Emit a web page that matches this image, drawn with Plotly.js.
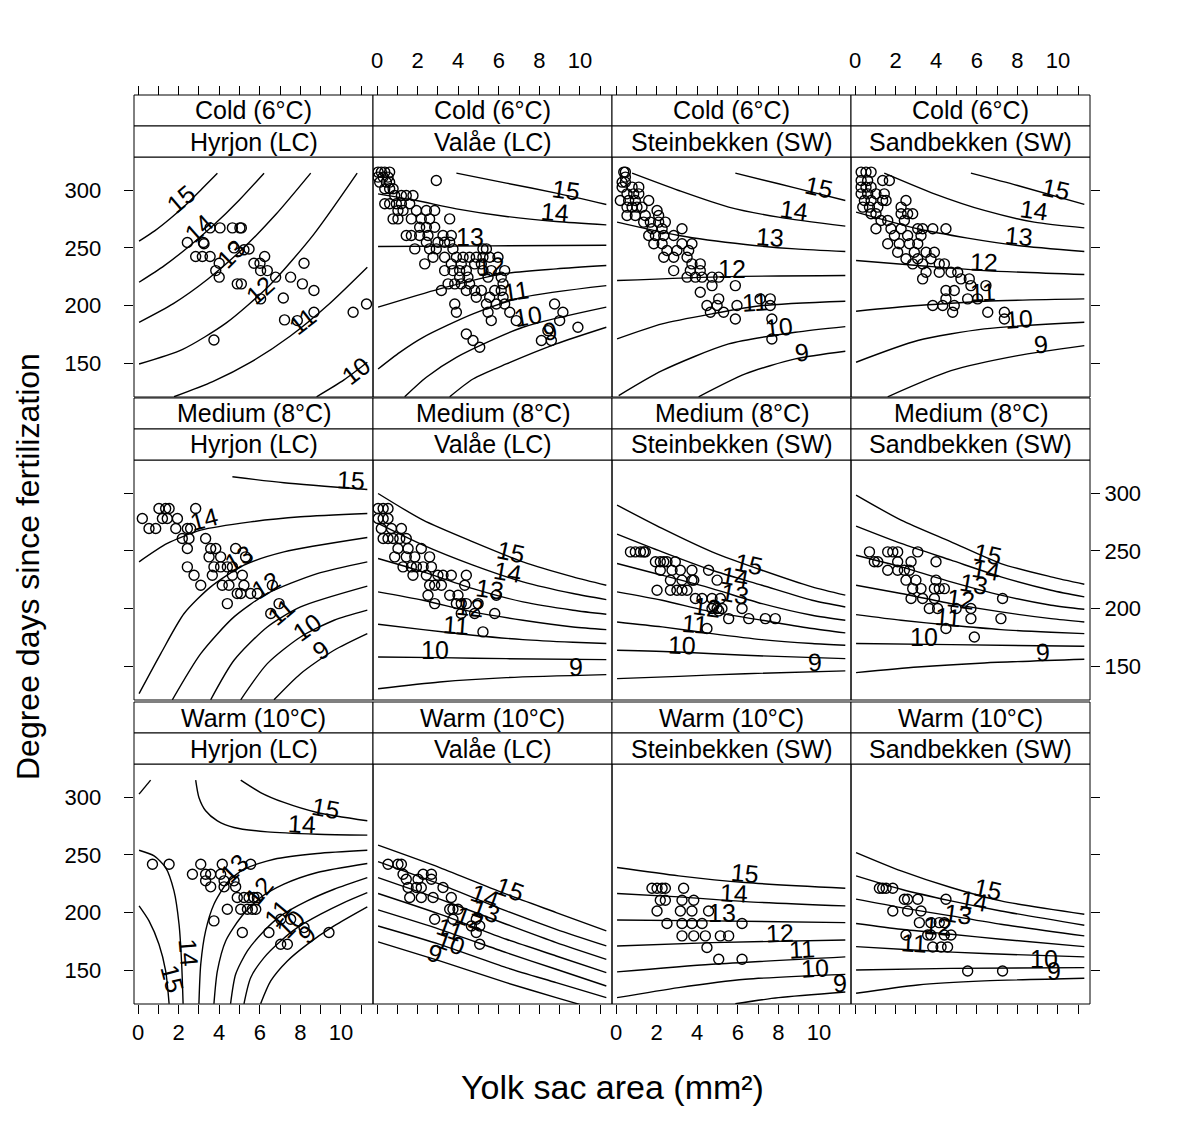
<!DOCTYPE html>
<html><head><meta charset="utf-8">
<script src="https://cdn.plot.ly/plotly-3.0.1.min.js"></script>
<style>body{margin:0;background:#fff}#plot{width:1200px;height:1125px}</style>
</head><body><div id="plot"></div>
<script>
// ---------- categories ----------
const temperatures = ["Cold (6°C)", "Medium (8°C)", "Warm (10°C)"];
const populations = ["Hyrjon (LC)", "Valåe (LC)", "Steinbekken (SW)", "Sandbekken (SW)"];
const xTickVals = [0,1,2,3,4,5,6,7,8,9,10,11];
const xTickText = ["0","","2","","4","","6","","8","","10",""];
const yTickVals = [150,200,250,300];
const yTickText = ["150","200","250","300"];

// ---------- observations: [yolk sac area, degree days] ----------
const coldHyrjonPts = [[2.43,254.6],[3.22,254.6],[3.25,253.5],[3.55,267.3],[4.04,267.3],[4.65,267.3],[5.02,267.3],[5.09,267.3],[2.84,242.5],[3.17,242.5],[3.55,242.5],[3.83,230.3],[4.0,236.7],[4.0,224.6],[4.73,250.0],[5.22,248.3],[5.47,249.0],[4.89,218.8],[5.09,218.8],[5.71,236.7],[6.01,236.7],[6.24,242.5],[6.04,230.3],[6.37,230.3],[6.78,224.6],[7.52,224.6],[8.18,236.7],[8.10,218.8],[8.67,213.0],[7.16,206.6],[6.04,205.8],[7.22,187.6],[7.85,187.0],[8.67,194.2],[3.74,170.2],[10.6,194.2],[11.26,201.4]];
const coldValaePts = [[0.05,315.6],[0.21,315.6],[0.38,315.6],[0.62,315.6],[0.05,311.3],[0.30,311.3],[0.54,311.3],[0.13,306.9],[0.46,306.9],[0.62,306.9],[0.38,301.2],[0.62,301.2],[0.79,301.2],[2.92,308.4],[0.87,295.4],[1.20,295.4],[1.44,295.4],[1.77,295.4],[0.38,288.2],[0.62,288.2],[0.95,288.2],[1.20,288.2],[1.61,288.2],[1.03,282.4],[1.28,282.4],[1.94,282.4],[2.43,282.4],[2.84,282.4],[0.79,275.1],[1.03,275.1],[1.69,275.1],[2.18,275.1],[2.59,275.1],[3.58,275.1],[2.10,267.9],[2.43,267.9],[2.84,267.9],[1.44,260.7],[1.69,260.7],[2.10,260.7],[2.51,260.7],[3.25,260.7],[3.66,260.7],[2.43,254.9],[3.00,254.9],[3.33,254.9],[3.58,254.9],[1.86,249.1],[2.59,249.1],[2.92,249.1],[3.74,249.1],[5.22,249.1],[5.39,249.1],[2.76,241.9],[3.33,241.9],[3.91,241.9],[4.24,241.9],[4.56,241.9],[4.89,241.9],[5.22,241.9],[5.55,241.9],[5.96,241.9],[2.35,236.1],[3.66,236.1],[4.15,236.1],[4.81,236.1],[5.14,236.1],[3.33,230.3],[3.74,230.3],[4.07,230.3],[4.40,230.3],[5.22,230.3],[5.63,230.3],[6.29,230.3],[4.07,224.6],[4.48,224.6],[5.47,224.6],[6.12,224.6],[3.50,218.8],[3.83,218.8],[4.15,218.8],[4.56,218.8],[6.21,218.8],[3.17,213.0],[4.40,213.0],[4.81,213.0],[5.14,213.0],[5.80,213.0],[6.12,213.0],[4.89,207.2],[5.55,207.2],[6.21,207.2],[3.83,201.4],[5.39,201.4],[5.88,201.4],[6.29,201.4],[8.75,201.4],[3.91,194.2],[5.47,194.2],[6.54,194.2],[9.16,194.2],[5.63,187.0],[6.86,187.0],[9.00,187.0],[9.90,181.2],[8.42,178.3],[4.40,175.4],[4.73,169.7],[8.10,169.7],[8.59,169.7],[5.06,163.9]];
const coldSteinPts = [[0.38,315.6],[0.46,315.6],[0.46,311.3],[0.30,306.9],[0.46,306.9],[0.30,302.6],[0.79,302.6],[1.12,302.6],[0.54,296.8],[0.87,296.8],[1.12,296.8],[0.21,291.0],[0.62,291.0],[0.95,291.0],[1.61,291.0],[0.54,285.3],[0.79,285.3],[1.03,285.3],[1.28,285.3],[2.02,282.4],[0.54,278.0],[0.95,278.0],[1.44,278.0],[2.10,278.0],[1.36,272.3],[1.69,272.3],[2.10,272.3],[2.43,272.3],[1.77,266.5],[2.27,266.5],[3.25,266.5],[1.61,260.7],[1.94,260.7],[2.35,260.7],[2.84,260.7],[1.86,253.5],[2.27,253.5],[3.25,253.5],[3.74,253.5],[2.51,247.7],[3.00,247.7],[3.58,247.7],[2.35,241.9],[2.84,241.9],[3.50,241.9],[3.74,236.1],[4.15,236.1],[2.84,230.3],[3.66,230.3],[4.15,230.3],[3.50,224.6],[3.91,224.6],[4.24,224.6],[4.73,224.6],[5.06,224.6],[4.73,217.3],[5.88,217.3],[4.15,211.6],[5.06,205.8],[7.10,205.8],[7.60,205.8],[4.48,200.0],[4.98,200.0],[5.96,200.0],[7.60,200.0],[4.65,194.2],[5.30,194.2],[5.88,188.4],[7.68,188.4],[7.68,171.1]];
const coldSandPts = [[0.30,315.6],[0.54,315.6],[0.79,315.6],[0.30,308.4],[0.62,308.4],[1.36,308.4],[1.69,308.4],[0.30,302.6],[0.54,302.6],[0.79,302.6],[0.30,296.8],[0.62,296.8],[1.03,296.8],[1.44,296.8],[0.46,291.0],[0.79,291.0],[1.36,291.0],[1.53,291.0],[2.51,291.0],[0.38,285.3],[0.71,285.3],[1.12,285.3],[2.27,285.3],[0.79,279.5],[1.03,279.5],[2.27,279.5],[2.59,279.5],[2.84,279.5],[1.28,273.7],[1.61,273.7],[2.43,273.7],[1.03,266.5],[1.77,266.5],[2.27,266.5],[3.09,266.5],[3.33,266.5],[3.83,266.5],[4.48,266.5],[1.94,260.7],[2.59,260.7],[3.25,260.7],[1.61,253.5],[2.18,253.5],[2.68,253.5],[3.09,253.5],[2.10,246.2],[2.92,246.2],[3.50,246.2],[3.91,246.2],[2.51,240.5],[3.09,240.5],[3.74,240.5],[2.84,236.1],[3.33,236.1],[4.15,236.1],[4.40,236.1],[3.50,228.9],[4.15,228.9],[4.73,228.9],[5.06,228.9],[3.33,223.1],[5.22,223.1],[5.63,223.1],[5.71,217.3],[6.45,217.3],[4.48,213.0],[4.89,213.0],[4.48,205.8],[5.55,205.8],[6.04,205.8],[3.83,200.0],[4.32,200.0],[4.89,200.0],[4.81,194.2],[6.54,194.2],[7.36,194.2],[7.36,188.4]];
const mediumHyrjonPts = [[1.03,286.7],[1.36,286.7],[1.53,286.7],[2.84,286.7],[0.21,278.0],[1.20,278.0],[1.44,278.0],[1.94,278.0],[0.54,269.4],[0.87,269.4],[1.86,269.4],[2.43,269.4],[2.59,269.4],[2.18,260.7],[2.51,260.7],[3.33,260.7],[2.43,252.0],[3.58,252.0],[3.83,252.0],[4.81,252.0],[3.50,244.8],[4.07,244.8],[5.30,244.8],[2.43,236.1],[3.74,236.1],[4.07,236.1],[4.40,236.1],[4.65,236.1],[2.76,228.9],[3.66,228.9],[4.65,228.9],[5.14,228.9],[3.09,220.2],[4.15,220.2],[4.48,220.2],[5.22,220.2],[6.62,220.2],[4.89,213.0],[5.06,213.0],[5.55,213.0],[5.88,213.0],[4.40,204.3],[6.95,204.3],[6.54,195.7]];
const mediumValaePts = [[0.05,286.7],[0.30,286.7],[0.54,286.7],[0.05,278.0],[0.30,278.0],[0.54,278.0],[0.21,269.4],[0.71,269.4],[1.20,269.4],[0.30,260.7],[0.54,260.7],[0.79,260.7],[1.12,260.7],[1.44,260.7],[1.03,252.0],[1.53,252.0],[2.18,252.0],[0.87,244.8],[1.44,244.8],[1.86,244.8],[2.59,244.8],[1.28,236.1],[1.69,236.1],[1.94,236.1],[2.27,236.1],[2.68,236.1],[1.77,228.9],[2.43,228.9],[3.00,228.9],[3.25,228.9],[3.66,228.9],[4.40,228.9],[2.59,220.2],[2.84,220.2],[3.17,220.2],[4.32,220.2],[2.51,211.6],[3.58,211.6],[3.99,211.6],[5.88,211.6],[2.84,204.3],[3.91,204.3],[4.15,204.3],[4.40,204.3],[4.98,204.3],[4.15,195.7],[4.81,195.7],[5.80,195.7],[5.22,179.8]];
const mediumSteinPts = [[0.71,249.1],[0.95,249.1],[1.20,249.1],[1.36,249.1],[1.44,249.1],[1.94,240.5],[2.18,240.5],[2.35,240.5],[2.51,240.5],[2.92,240.5],[2.18,233.2],[2.76,233.2],[3.17,233.2],[3.74,233.2],[4.56,233.2],[2.68,224.6],[3.25,224.6],[3.74,224.6],[3.83,224.6],[4.98,224.6],[2.02,215.9],[2.68,215.9],[3.00,215.9],[3.25,215.9],[3.50,215.9],[3.91,208.7],[4.24,208.7],[4.73,208.7],[5.14,208.7],[4.81,202.0],[5.06,198.0],[4.73,200.0],[4.98,200.0],[5.22,200.0],[6.21,200.0],[5.55,191.3],[6.54,191.3],[7.36,191.3],[7.85,191.3],[4.48,182.7]];
const mediumSandPts = [[0.71,249.1],[1.61,249.1],[1.86,249.1],[2.10,249.1],[3.09,249.1],[0.95,240.5],[1.12,240.5],[2.10,240.5],[2.76,240.5],[3.99,240.5],[1.61,233.2],[2.10,233.2],[2.43,233.2],[2.68,233.2],[2.51,224.6],[3.00,224.6],[3.99,224.6],[2.84,217.3],[3.25,217.3],[3.91,217.3],[4.15,217.3],[4.40,217.3],[2.76,208.7],[3.33,208.7],[3.91,208.7],[7.27,208.7],[3.66,200.0],[4.07,200.0],[4.98,200.0],[5.71,200.0],[5.71,191.3],[7.19,191.3],[4.48,182.7],[5.88,175.4]];
const warmHyrjonPts = [[0.71,241.9],[1.53,241.9],[3.09,241.9],[4.15,241.9],[5.55,241.9],[2.68,233.2],[3.33,233.2],[3.58,233.2],[4.07,233.2],[3.33,227.5],[4.24,227.5],[4.73,227.5],[3.58,222.3],[4.24,222.3],[4.81,222.3],[4.89,213.0],[5.22,213.0],[5.47,213.0],[5.71,213.0],[5.88,213.0],[4.40,202.9],[5.06,202.9],[5.39,202.9],[5.63,202.9],[5.80,202.9],[7.03,194.2],[7.52,194.2],[3.74,192.8],[8.18,187.0],[5.14,182.7],[6.45,182.7],[9.41,182.7],[7.03,172.5],[7.36,172.5]];
const warmValaePts = [[0.54,241.9],[1.03,241.9],[1.20,241.9],[1.28,233.2],[2.27,233.2],[2.68,233.2],[1.44,228.9],[2.02,228.9],[2.68,228.9],[1.53,221.7],[1.94,221.7],[2.18,221.7],[3.25,221.7],[1.61,213.0],[2.18,213.0],[2.76,213.0],[3.66,213.0],[3.58,202.9],[3.74,202.9],[3.99,202.9],[2.84,194.2],[3.74,194.2],[4.89,194.2],[4.65,188.4],[5.06,188.4],[4.89,182.7],[5.06,172.5]];
const warmSteinPts = [[1.77,221.1],[2.02,221.1],[2.27,221.1],[2.43,221.1],[3.33,221.1],[2.18,210.7],[2.43,210.7],[3.25,210.7],[3.83,210.7],[2.02,201.4],[3.17,201.4],[3.74,201.4],[4.56,201.4],[2.51,190.5],[3.25,190.5],[3.74,190.5],[4.24,190.5],[6.21,190.5],[3.25,179.8],[3.83,179.8],[4.40,179.8],[5.14,179.8],[5.55,179.8],[4.48,169.7],[5.06,159.5],[6.21,159.5]];
const warmSandPts = [[1.20,221.1],[1.36,221.1],[1.53,221.1],[1.86,221.1],[2.43,211.6],[2.59,211.6],[3.09,211.6],[4.48,211.6],[1.86,201.4],[2.59,201.4],[3.25,201.4],[3.17,191.3],[3.74,191.3],[4.15,191.3],[4.40,191.3],[2.51,180.6],[3.58,180.6],[3.74,180.6],[4.40,180.6],[4.73,180.6],[3.83,170.2],[4.24,170.2],[4.56,170.2],[5.55,149.4],[7.27,149.4]];

// ---------- fitted contour lines: [level, [[area, degree days], ...]] ----------
const coldHyrjonLines = [
 [15,[[0.05,255.8],[0.82,264.7],[1.59,275.4],[2.36,287.3],[3.14,301.0],[3.91,314.7]]],
 [14,[[0.05,220.2],[1.28,234.4],[2.51,251.2],[3.74,270.0],[4.98,291.3],[6.21,314.7]]],
 [13,[[0.05,185.5],[1.74,201.7],[3.43,222.8],[5.12,248.6],[6.82,279.5],[8.51,314.7]]],
 [12,[[0.05,149.4],[2.20,162.1],[4.35,185.0],[6.50,217.9],[8.65,261.5],[10.8,314.7]]],
 [11,[[1.77,121.0],[3.68,134.1],[5.58,151.2],[7.49,173.4],[9.39,200.9],[11.3,233.2]]],
 [10,[[8.8,121.0],[10.15,135.6],[11.3,150.9]]]];
const coldValaeLines = [
 [15,[[3.91,314.7],[6.37,306.1],[8.83,297.4],[11.3,287.6]]],
 [14,[[0.05,296.8],[1.94,291.0],[3.91,283.8],[6.37,277.2],[8.83,272.8],[11.3,269.9]]],
 [13,[[0.05,251.2],[5.55,251.7],[11.3,252.3]]],
 [12,[[0.05,198.6],[3.09,214.5],[6.21,227.5],[8.83,231.8],[11.3,234.7]]],
 [11,[[0.05,145.1],[1.12,159.5],[2.27,172.5],[4.73,192.8],[7.19,207.2],[11.3,217.3]]],
 [10,[[1.36,121.0],[2.43,137.9],[3.91,155.2],[7.19,181.2],[11.3,198.6]]],
 [9,[[3.58,121.0],[4.73,136.4],[6.37,149.4],[8.83,166.8],[11.3,181.2]]]];
const coldSteinLines = [
 [15,[[5.88,314.7],[8.01,305.5],[9.66,298.3],[11.3,291.0]]],
 [14,[[0.79,314.7],[3.09,299.7],[5.55,285.3],[8.01,276.6],[11.3,268.8]]],
 [13,[[0.05,272.3],[3.09,260.7],[6.37,252.9],[8.83,249.1],[11.3,246.8]]],
 [12,[[0.05,221.7],[5.55,225.1],[11.3,226.0]]],
 [11,[[0.05,171.1],[2.27,184.1],[4.73,192.8],[7.19,200.0],[11.3,203.8]]],
 [10,[[0.13,122.0],[2.27,143.6],[5.55,166.8],[8.83,176.9],[11.3,181.8]]],
 [9,[[4.07,121.0],[6.37,140.8],[8.83,153.8],[11.3,160.4]]]];
const coldSandLines = [
 [15,[[5.71,314.7],[8.01,304.0],[11.3,287.6]]],
 [14,[[1.44,314.7],[3.91,296.8],[6.37,282.4],[8.83,272.3],[11.3,267.3]]],
 [13,[[0.05,280.9],[3.09,266.5],[5.55,258.4],[8.01,252.0],[11.3,246.8]]],
 [12,[[0.05,239.0],[3.09,234.7],[6.37,230.3],[11.3,226.9]]],
 [11,[[0.05,195.1],[3.09,200.0],[6.37,203.8],[11.3,205.8]]],
 [10,[[0.05,150.9],[3.09,169.7],[6.37,179.8],[11.3,185.5]]],
 [9,[[1.61,121.0],[4.73,143.6],[8.01,156.6],[11.3,165.3]]]];
const mediumHyrjonLines = [
 [15,[[4.65,314.2],[7.19,309.0],[11.3,303.2]]],
 [14,[[0.05,240.5],[1.44,256.4],[3.09,267.9],[5.55,275.1],[8.01,279.5],[11.3,282.4]]],
 [13,[[0.05,126.3],[1.12,161.0],[2.27,195.7],[3.58,218.8],[5.22,237.6],[7.19,249.1],[11.3,261.6]]],
 [12,[[1.69,121.0],[3.09,161.0],[4.73,192.8],[6.37,213.0],[8.83,230.3],[11.3,240.5]]],
 [11,[[3.58,121.0],[4.73,155.2],[6.37,184.1],[8.01,201.4],[11.3,219.4]]],
 [10,[[5.06,121.0],[6.37,152.3],[8.01,175.4],[9.66,189.9],[11.3,198.6]]],
 [9,[[6.70,121.0],[8.01,143.6],[9.66,163.9],[11.3,178.3]]]];
const mediumValaeLines = [
 [15,[[0.05,299.7],[2.27,276.6],[4.73,257.8],[7.19,240.5],[9.66,227.5],[11.3,220.2]]],
 [14,[[0.05,273.7],[2.27,254.9],[4.73,237.6],[7.19,223.1],[9.66,213.0],[11.3,207.8]]],
 [13,[[0.05,243.4],[2.27,231.8],[4.73,217.3],[7.19,205.8],[9.66,198.6],[11.3,195.1]]],
 [12,[[0.05,214.5],[2.27,207.2],[4.73,197.1],[7.19,189.9],[9.66,184.1],[11.3,181.8]]],
 [11,[[0.05,186.4],[2.27,181.8],[4.73,176.9],[7.19,173.1],[9.66,170.8],[11.3,169.7]]],
 [10,[[0.05,158.1],[3.09,157.5],[6.37,156.6],[11.3,155.8]]],
 [9,[[0.05,130.6],[3.09,136.4],[6.37,140.2],[11.3,142.8]]]];
const mediumSteinLines = [
 [15,[[0.05,289.6],[2.27,269.4],[4.73,249.1],[7.19,233.2],[9.66,218.8],[11.3,211.6]]],
 [14,[[0.05,264.5],[2.27,249.1],[4.73,233.2],[7.19,220.2],[9.66,207.2],[11.3,201.4]]],
 [13,[[0.05,239.0],[2.27,228.9],[4.73,217.3],[7.19,204.3],[9.66,194.2],[11.3,189.9]]],
 [12,[[0.05,214.5],[2.27,207.2],[4.73,197.1],[7.19,189.9],[9.66,182.7],[11.3,178.9]]],
 [11,[[0.05,188.4],[2.27,184.1],[4.73,178.3],[7.19,173.1],[9.66,169.7],[11.3,168.2]]],
 [10,[[0.05,163.9],[3.09,162.4],[6.37,159.5],[11.3,156.6]]],
 [9,[[0.05,139.3],[3.09,141.3],[6.37,143.6],[11.3,146.0]]]];
const mediumSandLines = [
 [15,[[0.05,298.3],[2.27,276.6],[4.73,257.8],[7.19,239.0],[9.66,227.5],[11.3,221.1]]],
 [14,[[0.05,271.4],[2.27,256.4],[4.73,241.9],[7.19,227.5],[9.66,215.9],[11.3,210.1]]],
 [13,[[0.05,246.2],[2.27,236.1],[4.73,223.1],[7.19,211.6],[9.66,202.9],[11.3,199.4]]],
 [12,[[0.05,220.2],[2.27,213.0],[4.73,204.3],[7.19,197.1],[9.66,191.3],[11.3,188.4]]],
 [11,[[0.05,194.8],[2.27,189.9],[4.73,185.5],[7.19,181.8],[9.66,179.5],[11.3,178.3]]],
 [10,[[0.05,169.7],[4.73,168.8],[11.3,167.3]]],
 [9,[[0.05,144.5],[3.09,149.4],[6.37,152.9],[11.3,156.1]]]];
const warmHyrjonLines = [
 [15,[[5.06,314.7],[6.04,304.0],[7.19,295.4],[8.83,286.7],[11.3,279.5]]],
 [14,[[2.84,314.7],[3.0,299.7],[3.33,288.2],[3.91,279.5],[4.73,273.7],[6.37,269.9],[8.83,267.9],[11.3,267.1]]],
 [15,[[0.05,302.6],[0.62,314.7]]],
 [14,[[0.05,254.0],[0.79,249.1],[1.36,239.0],[1.77,218.8],[2.02,189.9],[2.15,155.2],[2.22,121.0]]],
 [15,[[0.05,205.8],[0.54,192.8],[1.03,172.5],[1.36,149.4],[1.53,121.0]]],
 [13,[[3.0,121.0],[3.09,155.2],[3.33,184.1],[3.74,207.2],[4.40,226.0],[5.22,237.6],[6.70,246.2],[8.83,251.2],[11.3,254.0]]],
 [12,[[3.74,121.0],[3.91,149.4],[4.32,175.4],[5.06,195.7],[6.04,213.0],[7.19,224.6],[8.83,234.7],[11.3,242.5]]],
 [11,[[4.56,121.0],[4.81,146.5],[5.39,166.8],[6.21,184.1],[7.03,197.1],[8.34,210.1],[9.66,220.2],[11.3,230.3]]],
 [10,[[5.22,121.0],[5.55,143.6],[6.21,161.0],[7.03,175.4],[7.85,187.0],[9.0,198.6],[10.15,208.7],[11.3,217.3]]],
 [9,[[6.04,121.0],[6.54,140.8],[7.36,158.1],[8.34,172.5],[9.66,188.4],[11.3,204.9]]]];
const warmValaeLines = [
 [15,[[0.05,258.4],[3.09,239.0],[6.37,215.9],[8.83,200.0],[11.3,184.1]]],
 [14,[[0.05,244.2],[3.09,224.6],[6.37,201.4],[8.83,185.5],[11.3,171.1]]],
 [13,[[0.05,230.3],[3.09,211.6],[6.37,189.9],[8.83,174.0],[11.3,159.5]]],
 [12,[[0.05,216.5],[3.09,198.6],[6.37,176.9],[8.83,162.4],[11.3,148.0]]],
 [11,[[0.05,202.3],[3.09,185.5],[6.37,165.3],[8.83,150.9],[11.3,136.4]]],
 [10,[[0.05,188.4],[3.09,172.5],[6.37,152.3],[8.83,139.3],[11.3,126.3]]],
 [9,[[0.05,174.6],[3.09,158.1],[6.37,139.3],[8.83,126.3],[9.98,120.5]]]];
const warmSteinLines = [
 [15,[[0.05,239.0],[3.09,231.8],[6.37,226.0],[11.3,221.1]]],
 [14,[[0.05,216.5],[3.09,213.6],[6.37,209.5],[11.3,205.8]]],
 [13,[[0.05,193.6],[4.73,192.8],[11.3,191.3]]],
 [12,[[0.05,171.1],[4.73,174.0],[11.3,176.3]]],
 [11,[[0.05,148.6],[4.73,155.2],[11.3,161.6]]],
 [10,[[0.05,126.3],[3.09,135.0],[6.37,142.2],[11.3,146.5]]],
 [9,[[5.88,121.0],[8.01,126.3],[11.3,131.2]]]];
const warmSandLines = [
 [15,[[0.05,252.0],[2.27,236.1],[4.73,221.7],[7.19,210.1],[11.3,198.6]]],
 [14,[[0.05,231.8],[2.27,220.2],[4.73,210.1],[7.19,201.4],[11.3,189.0]]],
 [13,[[0.05,211.6],[2.27,204.3],[4.73,197.1],[7.19,189.9],[11.3,179.8]]],
 [12,[[0.05,190.5],[2.27,185.5],[4.73,181.2],[7.19,176.9],[11.3,170.5]]],
 [11,[[0.05,170.5],[3.09,167.3],[6.37,164.5],[11.3,161.6]]],
 [10,[[0.05,150.3],[4.73,151.7],[11.3,152.3]]],
 [9,[[0.05,130.1],[3.09,137.3],[6.37,140.8],[11.3,143.1]]]];

// ---------- contour labels: [level, area, degree days] and their angles ----------
const coldHyrjonLabels = [[15,2.10,292.5],[14,3.0,267.1],[13,4.56,244.8],[12,6.01,213.6],[11,8.10,187.0],[10,10.72,143.6]];
const coldHyrjonAngles = [-40,-42,-45,-42,-38,-38];
const coldValaeLabels = [[15,9.33,299.7],[14,8.75,280.9],[13,4.56,259.2],[12,5.6,234.0],[11,6.86,213.0],[10,7.44,191.3],[9,8.51,177.7]];
const coldValaeAngles = [8,5,0,-3,-8,-10,-12];
const coldSteinLabels = [[15,9.98,302.6],[14,8.75,282.4],[13,7.6,259.2],[12,5.71,231.8],[11,6.86,202.9],[10,8.01,181.2],[9,9.16,159.5]];
const coldSteinAngles = [12,8,4,0,-3,-6,-8];
const coldSandLabels = [[15,9.90,301.2],[14,8.83,282.4],[13,8.10,260.7],[12,6.37,237.6],[11,6.29,211.6],[10,8.10,188.4],[9,9.16,166.8]];
const coldSandAngles = [12,8,5,2,-2,-4,-6];
const mediumHyrjonLabels = [[15,10.48,311.3],[14,3.25,278.0],[13,4.98,243.4],[12,6.29,220.2],[11,7.03,197.1],[10,8.34,184.1],[9,9.0,163.9]];
const mediumHyrjonAngles = [3,-15,-30,-32,-40,-35,-35];
const mediumValaeLabels = [[15,6.62,249.1],[14,6.45,231.8],[13,5.55,217.3],[12,4.56,201.4],[11,3.91,185.5],[10,2.84,163.9],[9,9.82,149.4]];
const mediumValaeAngles = [12,10,8,6,4,0,0];
const mediumSteinLabels = [[15,6.54,239.0],[14,5.88,227.5],[13,5.88,213.0],[12,4.48,201.4],[11,3.91,187.0],[10,3.25,168.2],[9,9.82,153.8]];
const mediumSteinAngles = [12,10,10,8,5,2,-2];
const mediumSandLabels = [[15,6.54,247.7],[14,6.45,233.2],[13,5.88,221.7],[12,5.22,208.7],[11,4.56,192.8],[10,3.42,175.4],[9,9.24,162.4]];
const mediumSandAngles = [12,10,10,8,5,0,-2];
const warmHyrjonLabels = [[15,9.24,291.0],[14,8.10,276.6],[14,2.51,165.3],[15,1.69,142.2],[13,4.73,239.0],[12,5.96,218.8],[11,6.86,200.0],[10,7.52,189.9],[9,8.34,181.2]];
const warmHyrjonAngles = [10,3,85,75,-45,-50,-50,-45,-40];
const warmValaeLabels = [[15,6.54,220.2],[14,5.30,214.5],[13,5.39,201.4],[12,4.56,195.7],[11,3.58,185.5],[10,3.66,174.0],[9,2.84,165.3]];
const warmValaeAngles = [20,20,20,20,20,20,20];
const warmSteinLabels = [[15,6.37,234.7],[14,5.80,217.3],[13,5.22,200.0],[12,8.10,182.7],[11,9.16,168.2],[10,9.82,152.3],[9,11.05,139.3]];
const warmSteinAngles = [5,3,0,-2,-3,-3,-3];
const warmSandLabels = [[15,6.54,220.2],[14,5.88,210.1],[13,5.06,198.6],[12,4.07,188.4],[11,2.92,174.0],[10,9.33,159.5],[9,9.82,149.4]];
const warmSandAngles = [12,10,8,5,3,0,0];

// ---------- assembly ----------
const panelPts = [coldHyrjonPts, coldValaePts, coldSteinPts, coldSandPts,
  mediumHyrjonPts, mediumValaePts, mediumSteinPts, mediumSandPts,
  warmHyrjonPts, warmValaePts, warmSteinPts, warmSandPts];
const panelLines = [coldHyrjonLines, coldValaeLines, coldSteinLines, coldSandLines,
  mediumHyrjonLines, mediumValaeLines, mediumSteinLines, mediumSandLines,
  warmHyrjonLines, warmValaeLines, warmSteinLines, warmSandLines];
const panelLabels = [coldHyrjonLabels, coldValaeLabels, coldSteinLabels, coldSandLabels,
  mediumHyrjonLabels, mediumValaeLabels, mediumSteinLabels, mediumSandLabels,
  warmHyrjonLabels, warmValaeLabels, warmSteinLabels, warmSandLabels];
const panelAngles = [coldHyrjonAngles, coldValaeAngles, coldSteinAngles, coldSandAngles,
  mediumHyrjonAngles, mediumValaeAngles, mediumSteinAngles, mediumSandAngles,
  warmHyrjonAngles, warmValaeAngles, warmSteinAngles, warmSandAngles];

const FONT = '"Liberation Sans", Arial, sans-serif';
const W = 1200, H = 1125;
const colL = [134, 373, 612, 851], colW = 239;
const rowT = [157, 460, 764], rowH = 240, stripH = 31;
const xRange = [-0.2, 11.58], yRange = [120.8, 328.7];
const px = v => v / W, py = v => (H - v) / H;
const TICKFONT = {size: 22, family: FONT, color: '#000'};
const PAD = '\u00a0\u00a0\u00a0';       // keeps left tick labels clear of the tick marks
const topTickY = rowT[0] - 2 * stripH;   // strip top of first row
const topLabelY = topTickY - 8;          // base line of the label-only top axis

const traces = [], annotations = [], shapes = [];
const layout = {
  width: W, height: H, margin: {l: 0, r: 0, t: 0, b: 0},
  paper_bgcolor: '#fff', plot_bgcolor: 'rgba(0,0,0,0)', showlegend: false,
  font: {family: FONT, color: '#000', size: 22}
};

// invisible helper y axis whose top edge carries the top tick labels
layout.yaxis13 = {domain: [py(rowT[0]), py(topLabelY)], range: [0, 1], visible: false, fixedrange: true, anchor: 'x13'};

for (let k = 0; k < 12; k++) {
  const r = Math.floor(k / 4), c = k % 4, n = k + 1;
  const sfx = n === 1 ? '' : String(n);
  const xa = 'x' + sfx, ya = 'y' + sfx;

  panelLines[k].forEach(([lev, pts]) => {
    traces.push({type: 'scatter', mode: 'lines', xaxis: xa, yaxis: ya,
      x: pts.map(p => p[0]), y: pts.map(p => p[1]), name: String(lev),
      line: {color: '#000', width: 1.4, shape: 'spline', smoothing: 0.7}, hoverinfo: 'skip'});
  });
  traces.push({type: 'scatter', mode: 'markers', xaxis: xa, yaxis: ya,
    x: panelPts[k].map(p => p[0]), y: panelPts[k].map(p => p[1]),
    marker: {symbol: 'circle-open', size: 10, color: '#000', line: {width: 1.4, color: '#000'}}});
  panelLabels[k].forEach(([lev, lx, ly], i) => {
    annotations.push({xref: xa, yref: ya, x: lx, y: ly, text: String(lev), showarrow: false,
      textangle: panelAngles[k][i], font: {size: 25, family: FONT, color: '#000'}});
  });

  const L = colL[c], T = rowT[r];
  const xax = {domain: [px(L), px(L + colW)], range: xRange, showgrid: false, zeroline: false,
    showline: false, ticks: '', showticklabels: false, fixedrange: true,
    tickvals: xTickVals, ticktext: xTickText, tickfont: TICKFONT,
    ticklen: 9, tickwidth: 1, tickcolor: '#000', anchor: ya};
  if (r === 0) {
    // top tick marks sit on the upper edge of the strips
    Object.assign(xax, {anchor: 'free', position: py(topTickY), side: 'top', ticks: 'outside',
      ticklen: 9, showticklabels: false});
    if (c % 2 === 1) {
      // labels of the alternating top axis, a little above the tick marks
      const ln = c === 1 ? 13 : 14;
      layout['xaxis' + ln] = {domain: [px(L), px(L + colW)], range: xRange, anchor: 'y13', side: 'top',
        showgrid: false, zeroline: false, showline: false, fixedrange: true,
        tickvals: xTickVals, ticktext: xTickText, tickfont: TICKFONT,
        ticks: 'outside', ticklen: 9, tickcolor: 'rgba(0,0,0,0)', showticklabels: true};
      traces.push({type: 'scatter', mode: 'markers', x: [], y: [], xaxis: 'x' + ln, yaxis: 'y13', hoverinfo: 'skip'});
    }
  } else if (r === 2) {
    Object.assign(xax, {side: 'bottom', ticks: 'outside', showticklabels: c % 2 === 0});
  }
  const yax = {domain: [py(T + rowH), py(T)], range: yRange, showgrid: false, zeroline: false,
    showline: false, ticks: '', showticklabels: false, fixedrange: true,
    tickvals: yTickVals, ticktext: yTickText, tickfont: TICKFONT,
    ticklen: 9, tickwidth: 1, tickcolor: '#000', anchor: xa};
  if (c === 0) Object.assign(yax, {side: 'left', ticks: 'outside', showticklabels: r !== 1,
    ticktext: yTickText.map(t => t + PAD)});
  if (c === 3) Object.assign(yax, {side: 'right', ticks: 'outside', showticklabels: r === 1});
  layout['xaxis' + sfx] = xax;
  layout['yaxis' + sfx] = yax;

  // panel box and strips
  shapes.push({type: 'rect', xref: 'paper', yref: 'paper', x0: px(L), x1: px(L + colW),
    y0: py(T + rowH), y1: py(T), line: {color: '#000', width: 1}, fillcolor: 'rgba(0,0,0,0)'});
  [[temperatures[r], T - 2 * stripH], [populations[c], T - stripH]].forEach(([txt, top]) => {
    shapes.push({type: 'rect', xref: 'paper', yref: 'paper', x0: px(L), x1: px(L + colW),
      y0: py(top + stripH), y1: py(top), line: {color: '#000', width: 1}, fillcolor: '#fff'});
    annotations.push({xref: 'paper', yref: 'paper', x: px(L + colW / 2), y: py(top + stripH / 2),
      text: txt, showarrow: false, xanchor: 'center', yanchor: 'middle',
      font: {size: 25, family: FONT, color: '#000'}});
  });
}

annotations.push({xref: 'paper', yref: 'paper', x: px(612), y: py(1087), text: 'Yolk sac area (mm²)',
  showarrow: false, xanchor: 'center', yanchor: 'middle', font: {size: 34, family: FONT, color: '#000'}});
annotations.push({xref: 'paper', yref: 'paper', x: px(28), y: py(567), text: 'Degree days since fertilization',
  showarrow: false, textangle: -90, xanchor: 'center', yanchor: 'middle', font: {size: 32, family: FONT, color: '#000'}});

layout.annotations = annotations;
layout.shapes = shapes;
Plotly.newPlot('plot', traces, layout, {displayModeBar: false, staticPlot: true});
</script>
</body></html>
